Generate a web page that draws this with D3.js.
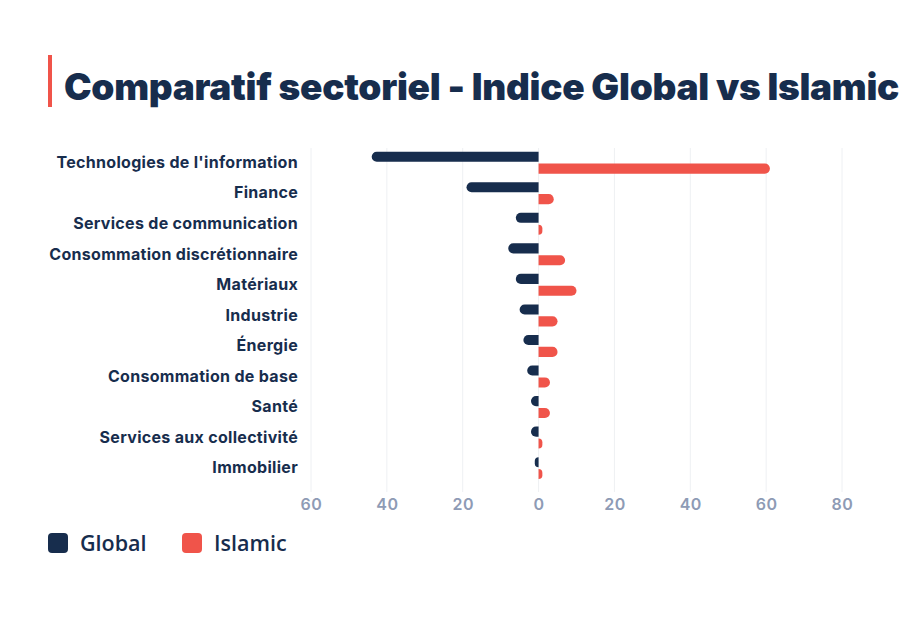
<!DOCTYPE html>
<html><head><meta charset="utf-8">
<script src="https://cdn.jsdelivr.net/npm/d3@7"></script>
<style>html,body{margin:0;padding:0;background:#fff;}svg{display:block;}</style>
</head><body>
<svg id="chart" width="904" height="634"></svg>
<script>
const categories = ["Technologies de l'information","Finance","Services de communication","Consommation discrétionnaire","Matériaux","Industrie","Énergie","Consommation de base","Santé","Services aux collectivité","Immobilier"];
const globalValues = [44, 19, 6, 8, 6, 5, 4, 3, 2, 2, 1];
const islamicValues = [61, 4, 1, 7, 10, 5, 5, 3, 3, 1, 1];
const seriesNames = ["Global","Islamic"];
const tickValues = [-60,-40,-20,0,20,40,60,80];
const title = "Comparatif sectoriel - Indice Global vs Islamic";

const navy = "#172d4d", red = "#f0544a";
const svg = d3.select("#chart");

// title
svg.append("rect").attr("x",48).attr("y",55).attr("width",4).attr("height",52).attr("fill",red);
svg.append("text").attr("x",64).attr("y",100).text(title)
  .attr("font-family","Inter").attr("font-weight",900).attr("font-size",37).attr("letter-spacing",-0.3).attr("fill",navy);

const x = d3.scaleLinear().domain([-60,80]).range([311,842]);
const y = d3.scaleBand().domain(categories).range([147.4,483.4]).paddingInner(0.28).paddingOuter(0.14);
const ys = d3.scaleBand().domain(seriesNames).range([0,y.bandwidth()]).paddingInner(0.15);

// grid
svg.append("g").selectAll("line").data(tickValues).join("line")
  .attr("x1",d=>x(d)).attr("x2",d=>x(d)).attr("y1",148).attr("y2",492)
  .attr("stroke","#eef0f3").attr("stroke-width",1);

// axis
const axis = d3.axisBottom(x).tickValues(tickValues).tickFormat(d=>Math.abs(d)).tickSize(0).tickPadding(0);
const ag = svg.append("g").attr("transform","translate(0,496)").call(axis);
ag.select(".domain").remove();
ag.selectAll("text").attr("font-family","Inter").attr("font-weight",600).attr("font-size",16)
  .attr("letter-spacing",0.5).attr("fill","#8e9bb5").attr("dy","0.85em");

// labels
svg.append("defs").append("clipPath").attr("id","lc").append("rect").attr("x",48).attr("y",130).attr("width",260).attr("height",360);
svg.append("g").attr("clip-path","url(#lc)").selectAll("text").data(categories).join("text")
  .attr("x",298).attr("y",d=>y(d)+y.bandwidth()/2).attr("dy","0.33em").attr("text-anchor","end")
  .attr("font-family","Inter").attr("font-weight",700).attr("font-size",16).attr("letter-spacing",0.3)
  .attr("fill",navy).text(d=>d);

function barPath(x0, x1, yt, h, dir){
  const w = Math.abs(x1-x0);
  const r = Math.min(h/2, w);
  if(dir>0){
    return `M${x0},${yt}H${x1-r}A${r},${r} 0 0 1 ${x1},${yt+r}V${yt+h-r}A${r},${r} 0 0 1 ${x1-r},${yt+h}H${x0}Z`;
  } else {
    return `M${x0},${yt}H${x1+r}A${r},${r} 0 0 0 ${x1},${yt+r}V${yt+h-r}A${r},${r} 0 0 0 ${x1+r},${yt+h}H${x0}Z`;
  }
}
const bars = svg.append("g");
bars.selectAll("path.g").data(categories).join("path").attr("class","g")
  .attr("d",(d,i)=>barPath(x(0), x(-globalValues[i]), y(d)+ys("Global"), ys.bandwidth(), -1)).attr("fill",navy);
bars.selectAll("path.i").data(categories).join("path").attr("class","i")
  .attr("d",(d,i)=>barPath(x(0), x(islamicValues[i]), y(d)+ys("Islamic"), ys.bandwidth(), 1)).attr("fill",red);

// legend
const leg = svg.append("g");
const lx = [48,182];
seriesNames.forEach((s,i)=>{
  leg.append("rect").attr("x",lx[i]).attr("y",533).attr("width",20).attr("height",20).attr("rx",4)
    .attr("fill",i===0?navy:red);
  leg.append("text").attr("x",lx[i]+32).attr("y",543).attr("dy","0.35em").text(s)
    .attr("font-family","Open Sans").attr("font-weight",600).attr("font-size",21.5).attr("fill",navy);
});
</script>
</body></html>
